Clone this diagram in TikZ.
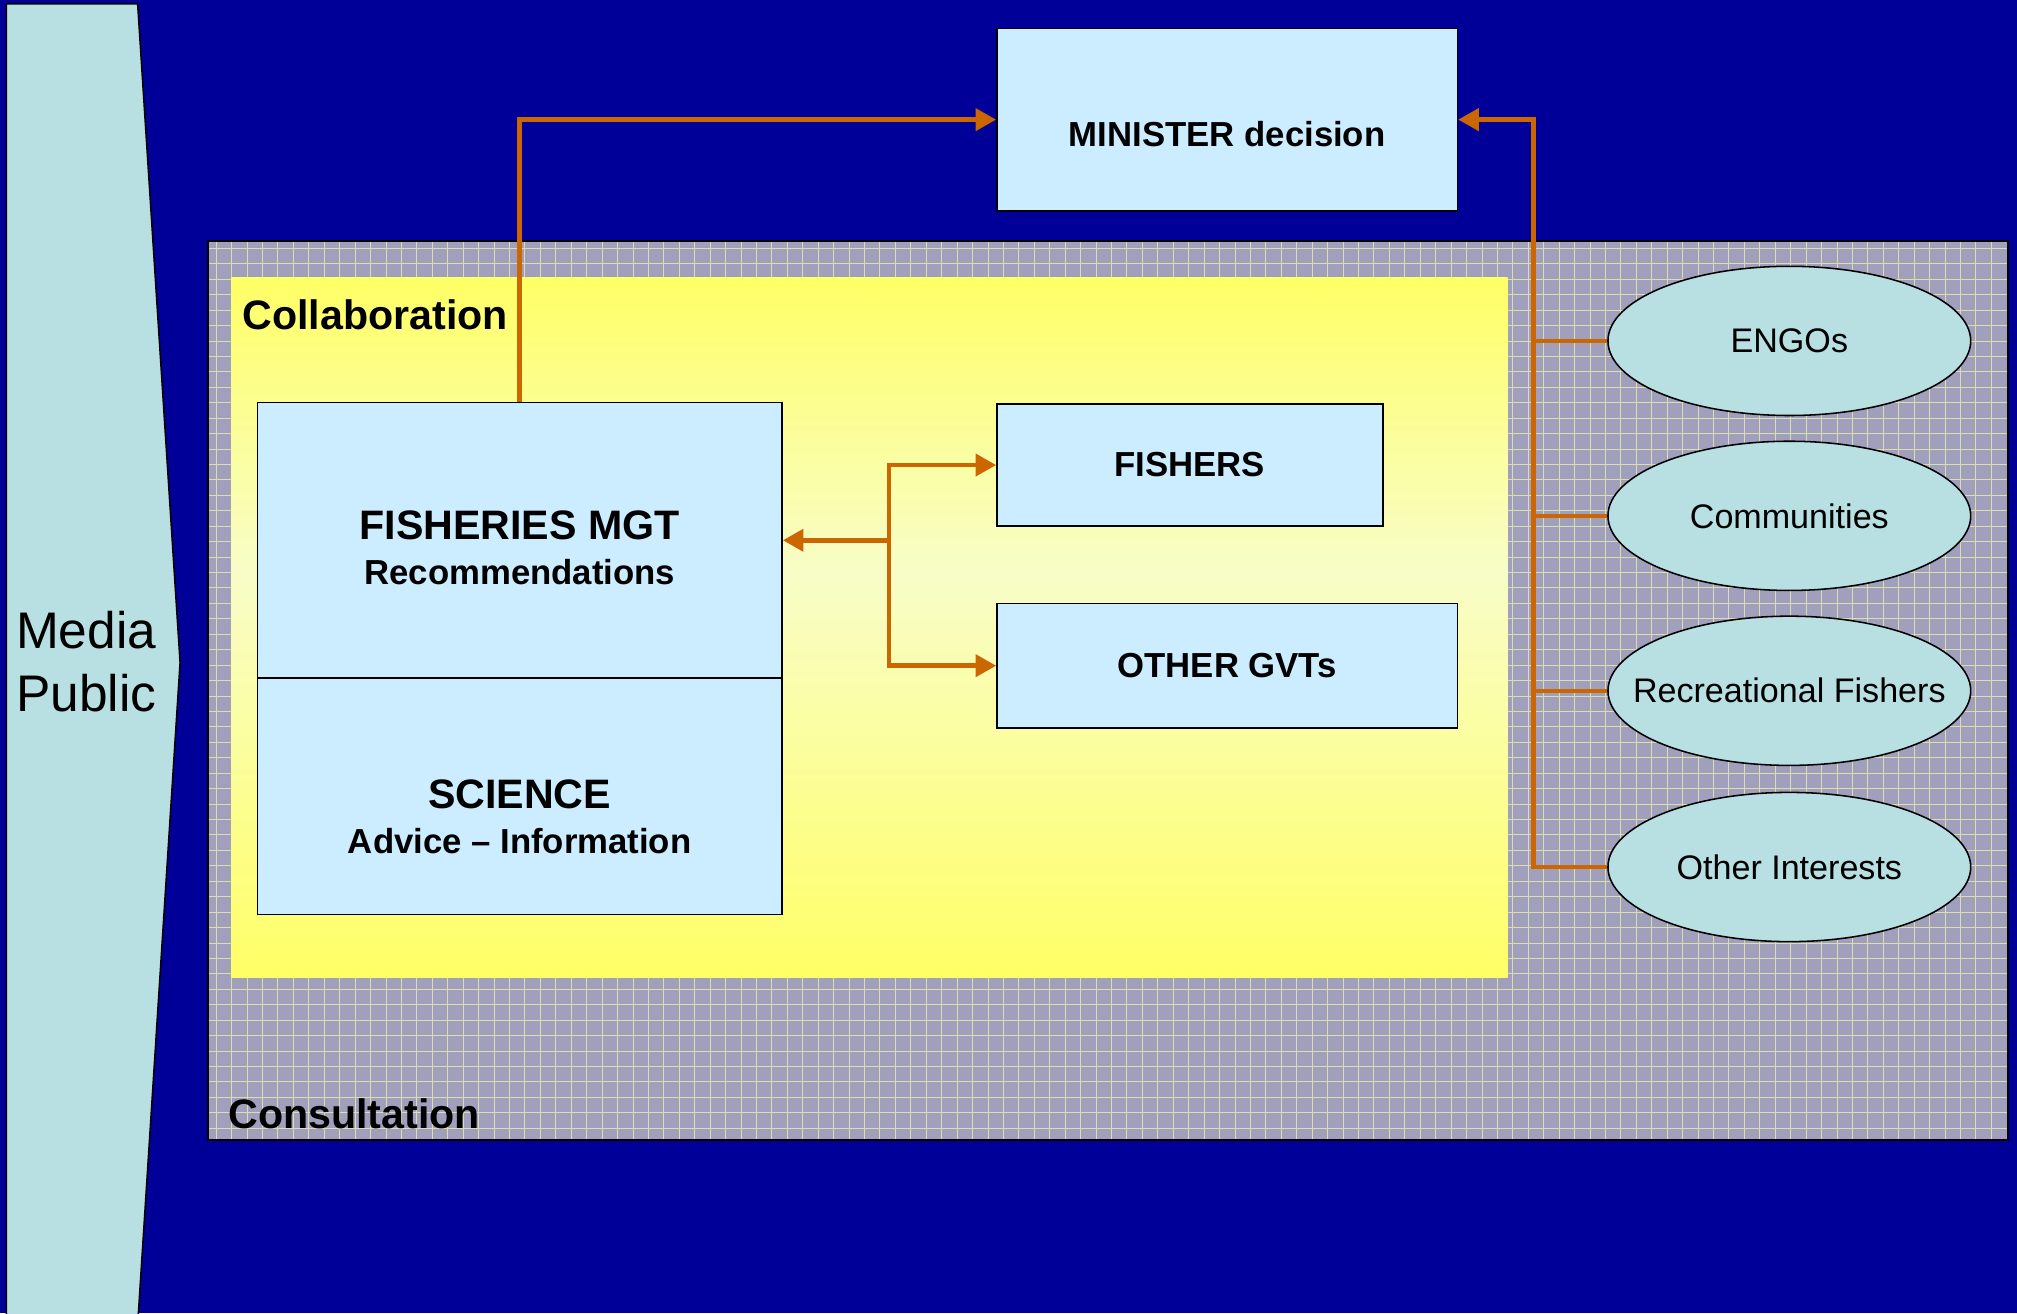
\documentclass[tikz,border=0pt]{standalone}
\usepackage{fontspec}
\setmainfont{Liberation Sans}
\usetikzlibrary{shapes,shapes.geometric,arrows.meta,calc}

\definecolor{deepblue}{HTML}{000099}
\definecolor{paleteal}{HTML}{B8E0E3}
\definecolor{skyfill}{HTML}{CCECFF}
\definecolor{consultgrey}{HTML}{A0A0BC}
\definecolor{gridcream}{HTML}{E8E8B0}
\definecolor{linkorange}{HTML}{CC6600}
\definecolor{collyellow}{HTML}{FFFF66}
\definecolor{collpale}{HTML}{F8FDC8}
\pgfdeclareverticalshading{collabshade}{100bp}{color(0bp)=(collyellow);
  color(25bp)=(collyellow); color(54bp)=(collpale);
  color(75bp)=(collyellow); color(100bp)=(collyellow)}

\begin{document}
\begin{tikzpicture}
        [x=1pt,y=-1pt,
        box/.style={shape=rectangle,draw,line width=1.2pt,fill=skyfill,
          inner sep=0pt,align=center},
        party/.style={shape=ellipse,draw,line width=1.2pt,fill=paleteal,
          inner sep=0pt,minimum width=282pt,minimum height=116pt,
          font=\fontsize{26.5}{32}\selectfont},
        link/.style={draw=linkorange,line width=3.5pt,
          -{Triangle[length=16pt,width=17pt]}},
        wire/.style={draw=linkorange,line width=3.5pt},
        gridline/.style={draw=gridcream!85!consultgrey,line width=0.6pt}]
        \useasboundingbox (0,0) rectangle (1568,1021);
        \fill[deepblue] (0,0) rectangle (1568,1021);
        %% media / public
        \draw[fill=paleteal,line width=1.2pt]
          (5,1030) -- (5,3) -- (107,3) -- (140,515) -- (107,1030);
        \node[anchor=west,align=left,font=\fontsize{40}{49}\selectfont]
          (media) at (9,514) {Media\\Public};
        %% consultation area
        \fill[consultgrey] (162,187) rectangle (1561,886);
        \foreach \gx in {168,180,...,1556}
          \draw[gridline] (\gx,187) -- (\gx,886);
        \foreach \gy in {193,205,...,880}
          \draw[gridline] (162,\gy) -- (1561,\gy);
        \draw[line width=1.5pt] (162,187) rectangle (1561,886);
        \node[anchor=west,font=\bfseries\fontsize{32}{38}\selectfont]
          (consult) at (174,866) {Consultation};
        %% collaboration area
        \shade[shading=collabshade] (180,216) rectangle (1172,760);
        \node[anchor=west,font=\bfseries\fontsize{32}{38}\selectfont]
          (collab) at (185,245) {Collaboration};
        %% boxes
        \node[box,minimum width=358pt,minimum height=142pt,
          font=\bfseries\fontsize{27}{32}\selectfont]
          (minister) at (954,93) {\raisebox{-21pt}[0pt][0pt]{MINISTER decision}};
        \node[box,minimum width=408pt,minimum height=214pt,
          font=\bfseries\fontsize{27}{36}\selectfont]
          (fmgt) at (404,420) {\raisebox{-17pt}[0pt][0pt]{\fontsize{32}{36}\selectfont FISHERIES MGT}\\[-1pt]
          \raisebox{-17pt}[0pt][0pt]{Recommendations}};
        \node[box,minimum width=408pt,minimum height=184pt,
          font=\bfseries\fontsize{27}{36}\selectfont]
          (science) at (404,619) {\raisebox{-27pt}[0pt][0pt]{\fontsize{32}{36}\selectfont SCIENCE}\\[-1pt]
          \raisebox{-27pt}[0pt][0pt]{Advice -- Information}};
        \node[box,minimum width=300pt,minimum height=95pt,
          font=\bfseries\fontsize{27}{32}\selectfont]
          (fishers) at (925,361.5) {FISHERS};
        \node[box,minimum width=358pt,minimum height=97pt,
          font=\bfseries\fontsize{27}{32}\selectfont]
          (gvts) at (954,517.5) {OTHER GVTs};
        %% stakeholders
        \foreach \pname/\ptext/\py in {engo/ENGOs/265,comm/Communities/401,
            recf/Recreational Fishers/537,oth/Other Interests/674}
          \node[party] (\pname) at (1391,\py) {\makebox[0pt]{\ptext}};
        %% connectors
        \coordinate (bus) at (1192,0);
        \coordinate (hub) at (691,420);
        \draw[link] (fmgt.north) |- (minister.west);
        \draw[link] (oth.west) -- (bus |- oth.west) |- (minister.east);
        \foreach \party in {engo,comm,recf}
          \draw[wire] (bus |- \party.west) -- (\party.west);
        \draw[link] (hub) -- (fmgt.east);
        \draw[link] (hub) |- (fishers.west);
        \draw[link] (hub) |- (gvts.west);
\end{tikzpicture}
\end{document}
